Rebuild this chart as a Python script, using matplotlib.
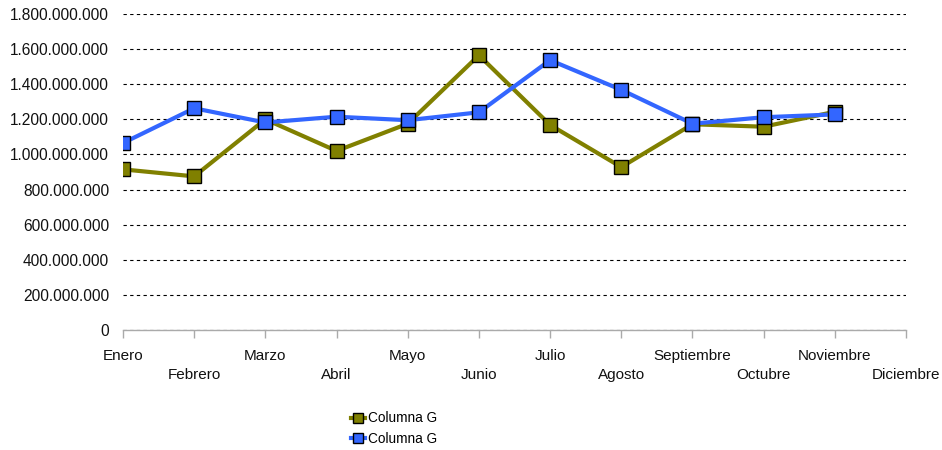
import matplotlib
matplotlib.use("Agg")
import matplotlib.pyplot as plt
from matplotlib.ticker import FuncFormatter, MultipleLocator

months = ["Enero", "Febrero", "Marzo", "Abril", "Mayo", "Junio", "Julio",
          "Agosto", "Septiembre", "Octubre", "Noviembre", "Diciembre"]
serie_olive = [915e6, 875e6, 1200e6, 1020e6, 1175e6, 1565e6, 1168e6,
               928e6, 1172e6, 1158e6, 1243e6]
serie_blue = [1065e6, 1263e6, 1182e6, 1215e6, 1195e6, 1240e6, 1537e6,
              1368e6, 1175e6, 1212e6, 1228e6]
legend_labels = ["Columna G", "Columna G"]

plt.rcParams['font.family'] = ['Liberation Sans', 'DejaVu Sans']

fig = plt.figure(figsize=(9.42, 4.5), dpi=100)
ax = fig.add_axes([123/942, 1 - 330/450, (906-123)/942, (330-14)/450])

x_olive = list(range(len(serie_olive)))
x_blue = list(range(len(serie_blue)))
l1, = ax.plot(x_olive, serie_olive, color="#808000", lw=3, marker="s", ms=9.5,
              mfc="#808000", mec="black", mew=1, zorder=3, label=legend_labels[0])
l2, = ax.plot(x_blue, serie_blue, color="#3366FF", lw=3, marker="s", ms=9.5,
              mfc="#3366FF", mec="black", mew=1, zorder=4, label=legend_labels[1])

ax.set_xlim(0, len(months) - 1)
ax.set_ylim(0, 1.8e9)
ax.yaxis.set_major_locator(MultipleLocator(2e8))

def fmt(v, pos):
    return "{:,.0f}".format(v).replace(",", ".")
ax.yaxis.set_major_formatter(FuncFormatter(fmt))

ax.set_xticks(range(len(months)))
ax.set_xticklabels([m if i % 2 == 0 else "\n" + m for i, m in enumerate(months)],
                   linespacing=1.45)

ax.grid(axis="y", color="black", ls=(0, (3, 3)), lw=0.8)
ax.set_axisbelow(True)
for s in ["left", "right", "top"]:
    ax.spines[s].set_visible(False)
ax.spines["bottom"].set_color("#aaaaaa")
ax.spines["bottom"].set_linewidth(1)
ax.tick_params(axis="y", length=0, pad=10, labelsize=11.2, labelcolor="#111111")
ax.tick_params(axis="x", length=5.5, width=1, color="#aaaaaa", pad=8, labelsize=11,
               labelcolor="#111111")

fig.legend(handles=[l1, l2], loc="upper left", bbox_to_anchor=(346/942, 1 - 406/450),
           frameon=False, fontsize=9.8, handlelength=1.0, handletextpad=0.25,
           labelspacing=0.45, markerscale=0.75, borderaxespad=0)

fig.savefig("out.png", dpi=100)
